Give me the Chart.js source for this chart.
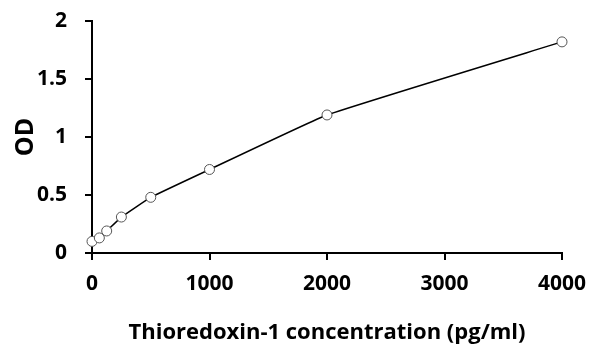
<!DOCTYPE html>
<html>
<head>
<meta charset="utf-8">
<script src="https://cdn.jsdelivr.net/npm/chart.js@4/dist/chart.umd.min.js"></script>
<style>
html,body{margin:0;padding:0;background:#fff;}
#wrap{width:600px;height:364px;position:relative;}
</style>
</head>
<body>
<div id="wrap"><canvas id="c" width="600" height="364"></canvas></div>
<script>
const concentrations = [0, 62.5, 125, 250, 500, 1000, 2000, 4000];
const odValues = [0.10, 0.13, 0.19, 0.31, 0.48, 0.72, 1.19, 1.82];
const xTicks = [0, 1000, 2000, 3000, 4000];
const yTicks = [0, 0.5, 1, 1.5, 2];
const xTitle = 'Thioredoxin-1 concentration (pg/ml)';
const yTitle = 'OD';

const FONT = '"Open Sans", "Liberation Sans", sans-serif';

new Chart(document.getElementById('c'), {
  type: 'scatter',
  data: {
    datasets: [{
      data: concentrations.map((x, i) => ({x: x, y: odValues[i]})),
      showLine: true,
      clip: false,
      borderColor: '#000',
      borderWidth: 1.5,
      tension: 0.1,
      pointRadius: 5,
      pointBackgroundColor: '#fff',
      pointBorderColor: '#555',
      pointBorderWidth: 1
    }]
  },
  options: {
    responsive: false,
    animation: false,
    layout: {padding: {top: 21, right: 38, bottom: 0, left: 0}},
    plugins: {legend: {display: false}, tooltip: {enabled: false}},
    scales: {
      x: {
        type: 'linear',
        min: 0, max: 4000,
        afterBuildTicks: s => { s.ticks = xTicks.map(v => ({value: v})); },
        afterFit: s => { s.height = 111; s.paddingLeft = 0; s.paddingRight = 0; },
        border: {color: '#000', width: 2},
        grid: {drawOnChartArea: false, color: '#000', lineWidth: 2, tickLength: 7},
        ticks: {color: '#000', font: {family: FONT, size: 21, weight: 'bold'}, padding: 11, maxRotation: 0,
                callback: v => String(v)},
        title: {display: true, text: xTitle, color: '#000', font: {family: FONT, size: 22, weight: 'bold'}, padding: {top: 14, bottom: 18}}
      },
      y: {
        type: 'linear',
        min: 0, max: 2,
        afterBuildTicks: s => { s.ticks = yTicks.map(v => ({value: v})); },
        afterFit: s => { s.width = 92; s.paddingTop = 0; s.paddingBottom = 0; },
        border: {color: '#000', width: 2},
        grid: {drawOnChartArea: false, color: '#000', lineWidth: 2, tickLength: 7},
        ticks: {color: '#000', font: {family: FONT, size: 21, weight: 'bold'}, padding: 18,
                callback: v => String(v)},
        title: {display: true, text: yTitle, color: '#000', font: {family: FONT, size: 25, weight: 'bold'}, padding: {top: 11, bottom: 0}}
      }
    }
  }
});
</script>
</body>
</html>
